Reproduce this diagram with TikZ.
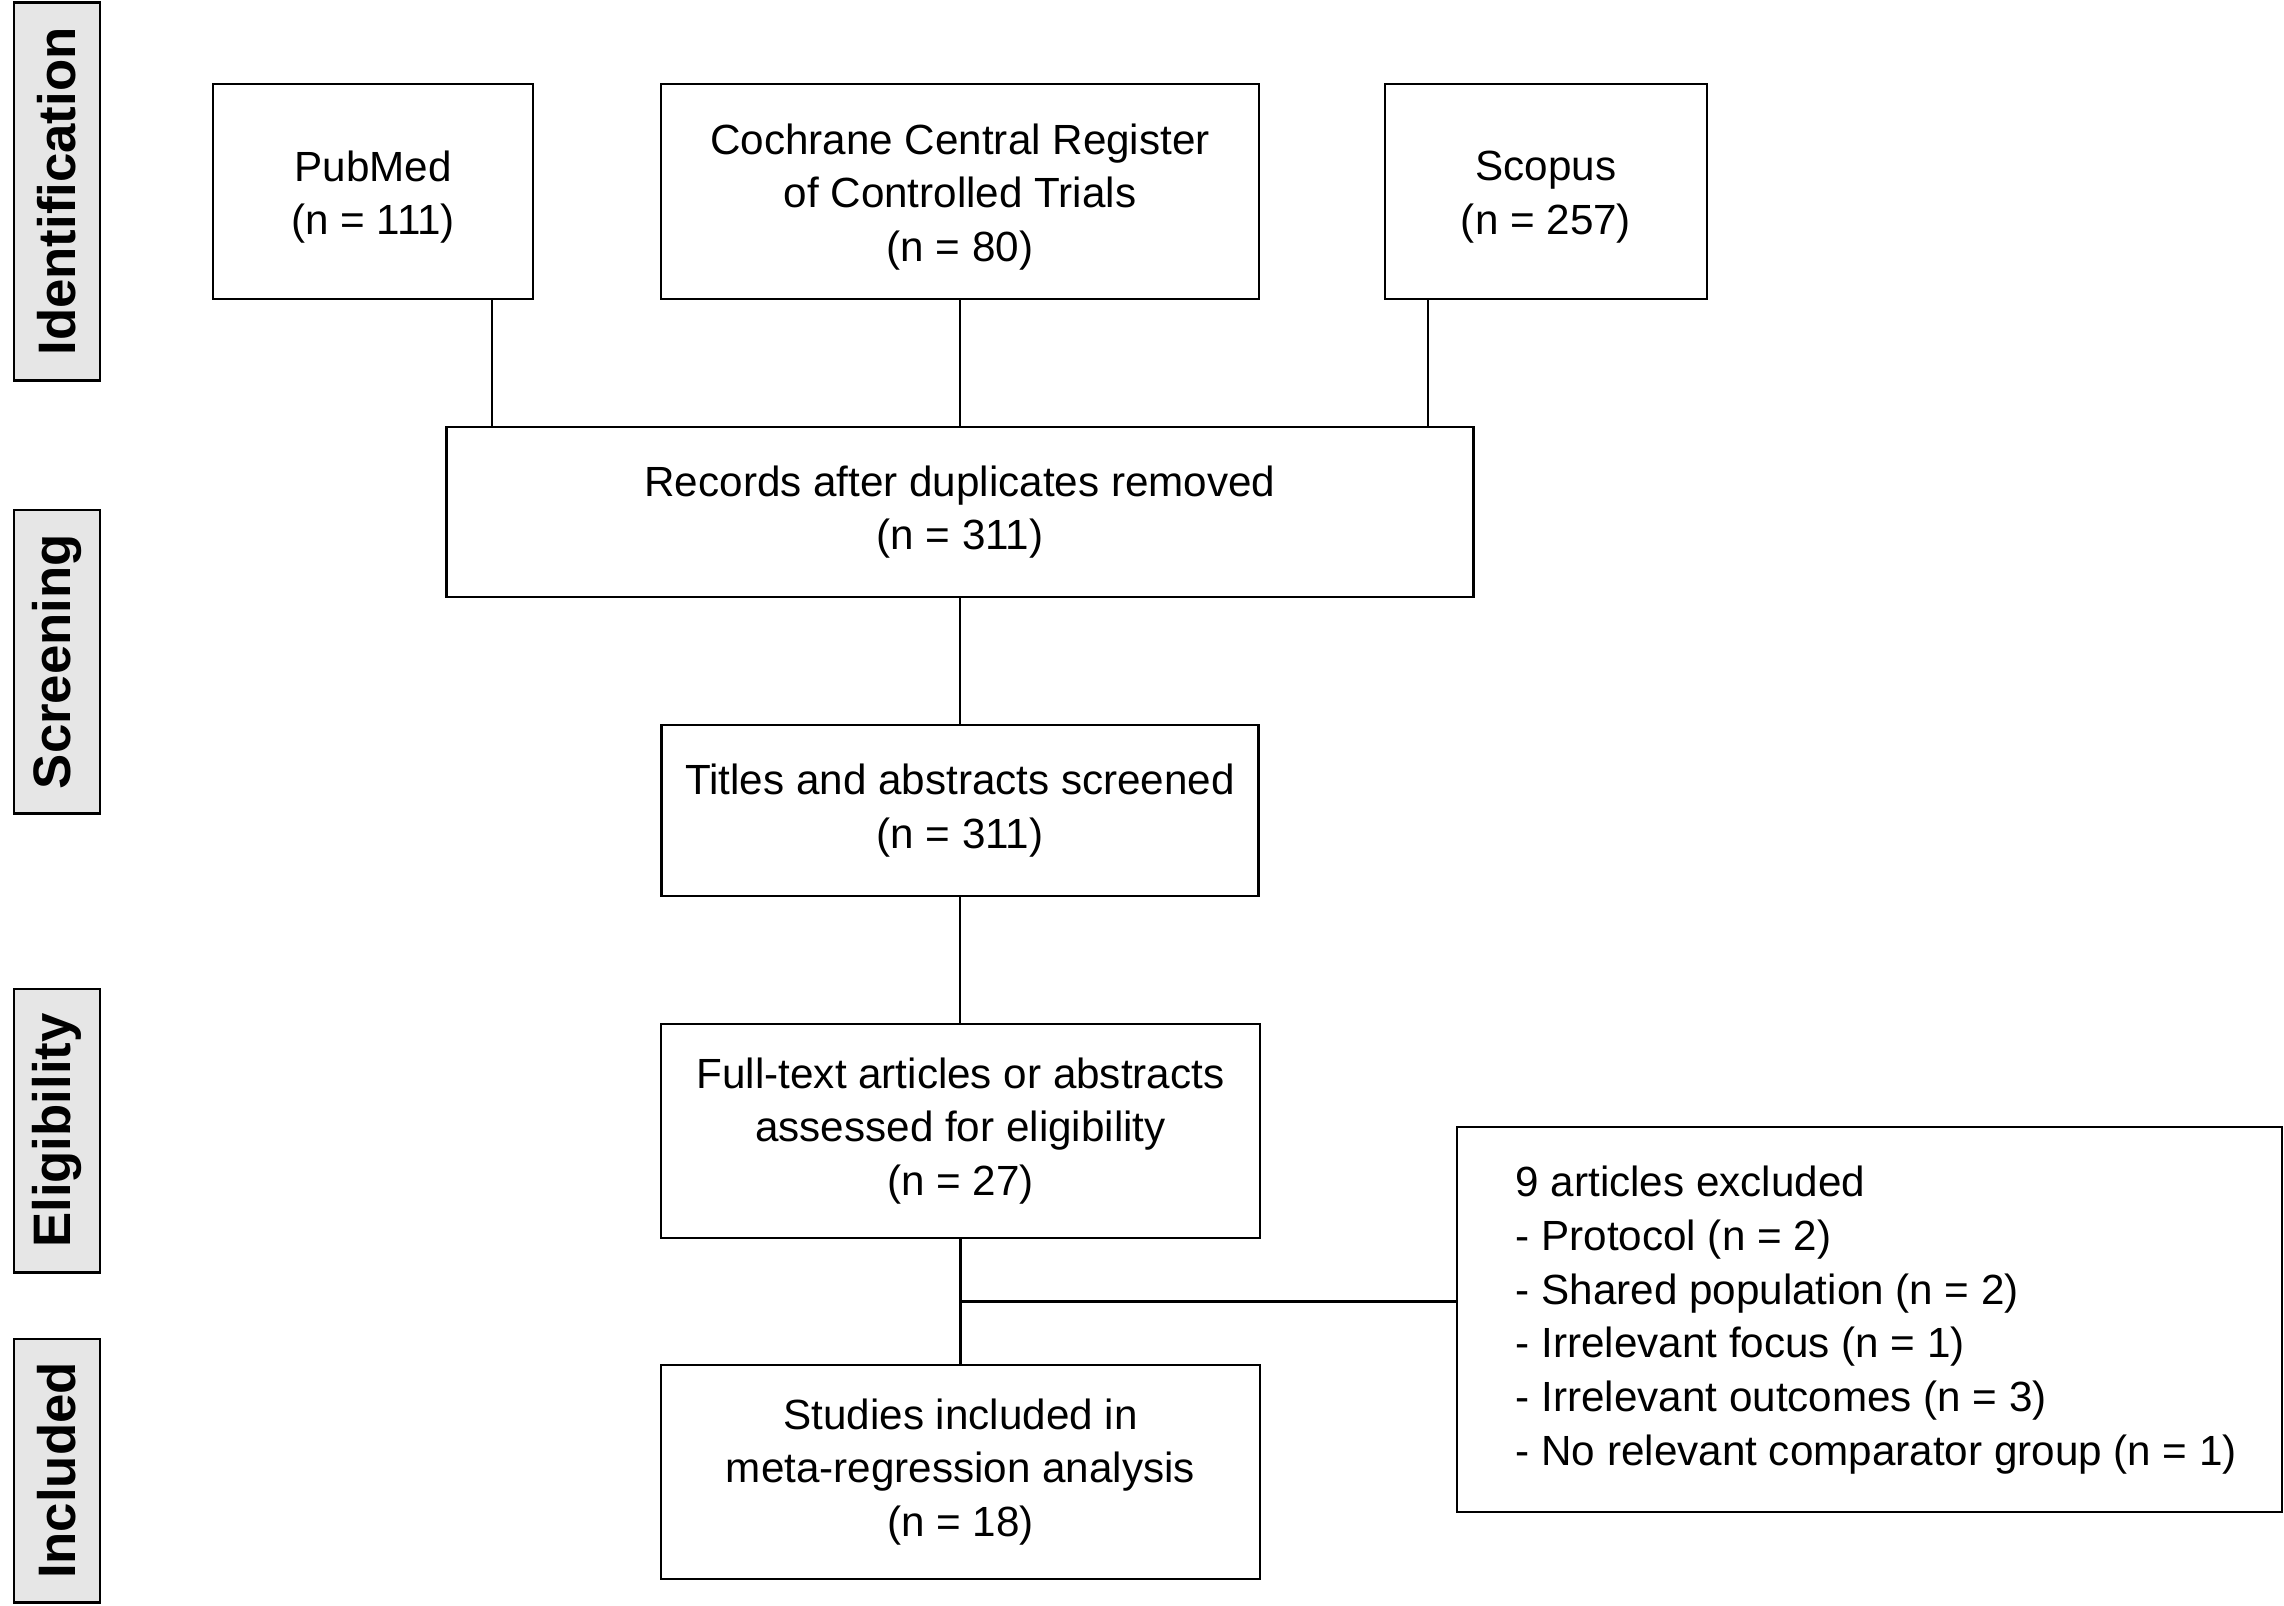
\documentclass[tikz,border=0pt]{standalone}
\usepackage{fontspec}
\setmainfont{Liberation Sans}
\usetikzlibrary{calc}
\definecolor{sidegray}{HTML}{E6E6E6}
\begin{document}
\begin{tikzpicture}[x=0.01cm,y=-0.01cm,
  box/.style={draw=black,line width=0.7pt,rectangle,align=center,inner sep=0pt,
    font=\fontsize{12}{15.3}\selectfont},
  txt/.style={align=center,inner sep=0pt,font=\fontsize{12}{15.3}\selectfont},
  side/.style={draw=black,line width=0.8pt,fill=sidegray,rectangle,inner sep=0pt,
    minimum width=0.86cm,font=\fontsize{15}{18}\selectfont\bfseries},
  conn/.style={draw=black,line width=0.7pt}]
\useasboundingbox (0,0) rectangle (2284,1605);
% side labels
\node[side,minimum height=3.77cm] (sid) at (57,191.5) {\rotatebox{90}{Identification}};
\node[side,minimum height=3.03cm] (sscr) at (57,661.5) {\rotatebox{90}{Screening}};
\node[side,minimum height=2.83cm] (selg) at (57,1130.5) {\rotatebox{90}{Eligibility}};
\node[side,minimum height=2.63cm] (sinc) at (57,1470.5) {\rotatebox{90}{Included}};
% boxes
\node[box,minimum width=3.20cm,minimum height=2.15cm] (pub) at (373,191.5) {};
\node[txt] (pubt) at (373,197) {PubMed\\(n = 111)};
\node[box,minimum width=5.98cm,minimum height=2.15cm] (coch) at (960,191.5) {};
\node[txt] (cocht) at (960,197) {Cochrane Central Register\\of Controlled Trials\\(n = 80)};
\node[box,minimum width=3.22cm,minimum height=2.15cm] (sco) at (1546,191.5) {};
\node[txt] (scot) at (1546,197) {Scopus\\(n = 257)};
\node[box,minimum width=10.26cm,minimum height=1.70cm] (rec) at (960,512) {Records after duplicates removed\\(n = 311)};
\node[box,minimum width=5.97cm,minimum height=1.71cm] (tit) at (960,810.5) {Titles and abstracts screened\\(n = 311)};
\node[box,minimum width=5.99cm,minimum height=2.14cm] (full) at (960.5,1131) {Full-text articles or abstracts\\assessed for eligibility\\(n = 27)};
\node[box,minimum width=5.99cm,minimum height=2.14cm] (stud) at (960.5,1472) {Studies included in\\meta-regression analysis\\(n = 18)};
\node[box,minimum width=8.25cm,minimum height=3.85cm] (exc) at (1869.5,1319.5) {};
\node[anchor=west,align=left,inner sep=0pt,font=\fontsize{12}{15.3}\selectfont] (exct) at (1515,1320)
  {9 articles excluded\\- Protocol (n = 2)\\- Shared population (n = 2)\\- Irrelevant focus (n = 1)\\- Irrelevant outcomes (n = 3)\\- No relevant comparator group (n = 1)};
% connectors
\coordinate (p1) at ($(pub.south west)!0.869!(pub.south east)$);
\coordinate (s1) at ($(sco.south west)!0.137!(sco.south east)$);
\draw[conn] (p1) -- (p1 |- rec.north);
\draw[conn] (coch.south) -- (coch.south |- rec.north);
\draw[conn] (s1) -- (s1 |- rec.north);
\draw[conn] (rec.south) -- (rec.south |- tit.north);
\draw[conn] (tit.south) -- (tit.south |- full.north);
\draw[conn] (full.south) -- (full.south |- stud.north);
\coordinate (br) at ($(full.south)!0.5!(stud.north)$);
\draw[conn] (br) -- (br -| exc.west);
\end{tikzpicture}
\end{document}
